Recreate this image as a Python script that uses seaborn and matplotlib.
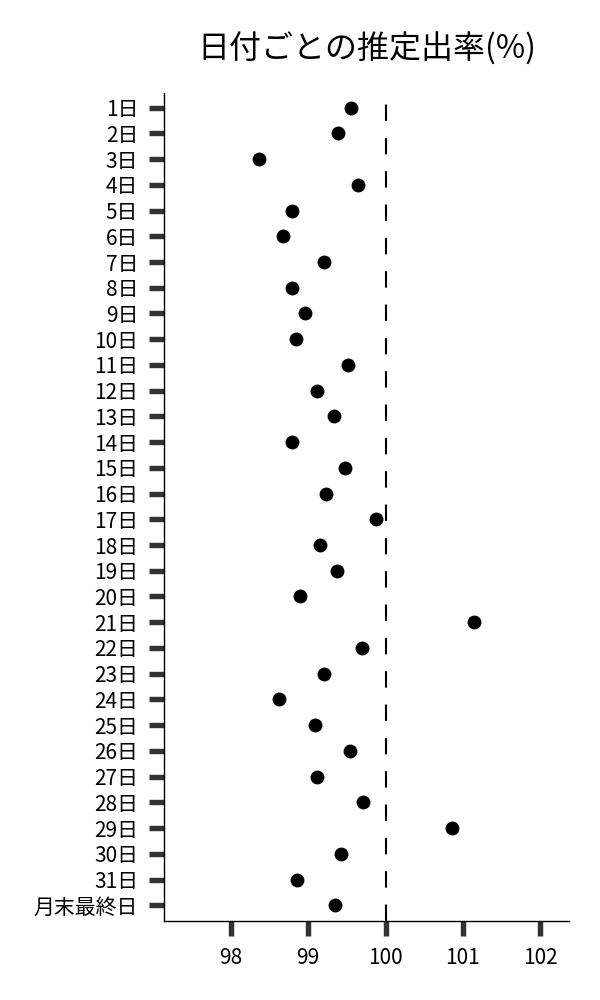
import matplotlib
matplotlib.use("Agg")
import matplotlib.pyplot as plt
import seaborn as sns
import pandas as pd

# ---- data ----
days = ["1日", "2日", "3日", "4日", "5日", "6日", "7日", "8日", "9日", "10日",
        "11日", "12日", "13日", "14日", "15日", "16日", "17日", "18日", "19日", "20日",
        "21日", "22日", "23日", "24日", "25日", "26日", "27日", "28日", "29日", "30日",
        "31日", "月末最終日"]
rates = [99.55, 99.39, 98.36, 99.64, 98.79, 98.68, 99.21, 98.79, 98.96, 98.84,
         99.52, 99.12, 99.33, 98.79, 99.47, 99.23, 99.88, 99.15, 99.37, 98.89,
         101.15, 99.70, 99.20, 98.62, 99.09, 99.54, 99.11, 99.71, 100.86, 99.43,
         98.86, 99.35]
x_ticks = [98, 99, 100, 101, 102]
ref_value = 100

df = pd.DataFrame({"day": days, "rate": rates})

sns.set_theme(style="ticks")
plt.rcParams["font.family"] = ["Noto Sans CJK JP", "DejaVu Sans"]

fig = plt.figure(figsize=(6, 10), dpi=100)
ax = fig.add_axes([0.274, 0.0793, 0.674, 0.828])

sns.stripplot(data=df, x="rate", y="day", order=days, orient="h", jitter=False,
              color="black", size=10, linewidth=0, ax=ax, zorder=3)

# 100% の基準線
ax.axvline(ref_value, color="black", lw=1.5, linestyle=(0, (7.9, 8.1)), zorder=2)

ax.set_xlim(97.14, 102.37)
ax.set_ylim(len(days) - 1 + 0.6, -0.58)
ax.set_xticks(x_ticks)
ax.set_xlabel("")
ax.set_ylabel("")

sns.despine(ax=ax)
for s in ["left", "bottom"]:
    ax.spines[s].set_color("black")
    ax.spines[s].set_linewidth(1.0)

ax.tick_params(axis="both", which="major", length=10.8, width=3.9,
               color="#333333", labelsize=15, pad=8, labelcolor="black")

fig.text(0.611, 0.951, "日付ごとの推定出率(%)", ha="center", va="center",
         fontsize=23, color="black")

plt.savefig("out.png", dpi=100)
